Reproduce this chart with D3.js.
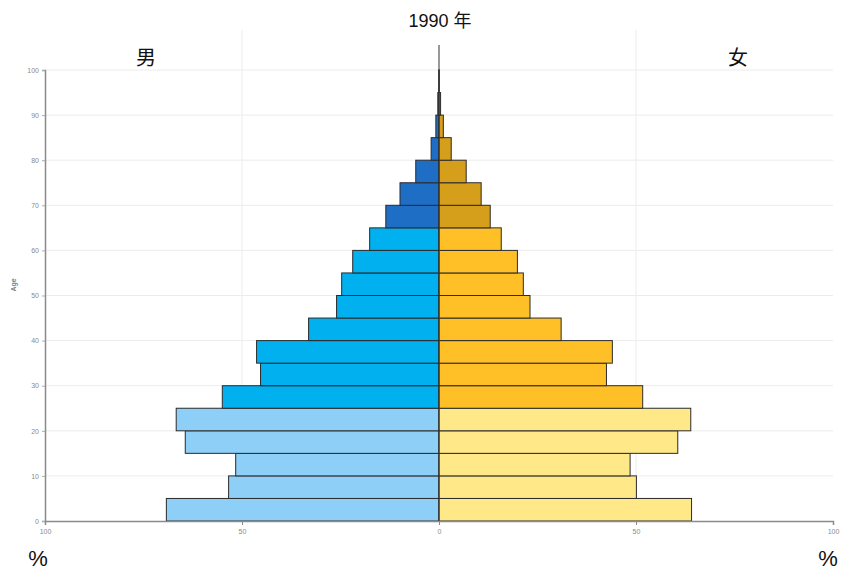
<!DOCTYPE html>
<html>
<head>
<meta charset="utf-8">
<script src="https://cdn.jsdelivr.net/npm/d3@7"></script>
<style>
  body { margin: 0; background: #fff; }
  svg { display: block; }
</style>
</head>
<body>
<svg id="chart" width="844" height="574"></svg>
<script>
// 5-year age groups, 0-4 up to 95-99
var ageStarts = [0, 5, 10, 15, 20, 25, 30, 35, 40, 45, 50, 55, 60, 65, 70, 75, 80, 85, 90, 95];
var male   = [69.2, 53.4, 51.6, 64.4, 66.7, 55.0, 45.3, 46.3, 33.1, 26.0, 24.7, 21.9, 17.6, 13.5, 9.9, 5.9, 2.0, 0.8, 0.3, 0.05];
var female = [64.1, 50.1, 48.5, 60.6, 63.9, 51.7, 42.5, 44.0, 31.0, 23.1, 21.4, 19.9, 15.8, 13.0, 10.7, 6.9, 3.1, 1.1, 0.4, 0.05];
var xTicks = [-100, -50, 0, 50, 100];
var yTicks = [0, 10, 20, 30, 40, 50, 60, 70, 80, 90, 100];

var title = "1990 年";
var maleLabel = "男";
var femaleLabel = "女";

var svg = d3.select("#chart");

var x = d3.scaleLinear().domain([-100, 100]).range([45, 833]);
var y = d3.scaleLinear().domain([0, 100]).range([521, 70]);

function maleColor(a) {
  if (a < 25) return "#8ecff7";
  if (a < 65) return "#00b0ef";
  return "#1f6ec6";
}
function femaleColor(a) {
  if (a < 25) return "#ffe888";
  if (a < 65) return "#ffc027";
  return "#d59f1c";
}

// grid
svg.append("g").selectAll("line")
  .data(yTicks.slice(1))
  .enter().append("line")
  .attr("x1", x(-100)).attr("x2", x(100))
  .attr("y1", function (d) { return y(d); })
  .attr("y2", function (d) { return y(d); })
  .attr("stroke", "#ececec")
  .attr("stroke-width", 1);

svg.append("g").selectAll("line")
  .data([-50, 50])
  .enter().append("line")
  .attr("x1", function (d) { return x(d); })
  .attr("x2", function (d) { return x(d); })
  .attr("y1", 30).attr("y2", y(0))
  .attr("stroke", "#ececec")
  .attr("stroke-width", 1);

// bars
var data = ageStarts.map(function (a, i) {
  return { age: a, m: male[i], f: female[i] };
});

svg.append("g").selectAll("rect")
  .data(data)
  .enter().append("rect")
  .attr("x", function (d) { return x(-d.m); })
  .attr("width", function (d) { return x(0) - x(-d.m); })
  .attr("y", function (d) { return y(d.age + 5); })
  .attr("height", function (d) { return y(d.age) - y(d.age + 5); })
  .attr("fill", function (d) { return maleColor(d.age); })
  .attr("stroke", "#2b2b2b")
  .attr("stroke-width", 1);

svg.append("g").selectAll("rect")
  .data(data)
  .enter().append("rect")
  .attr("x", x(0))
  .attr("width", function (d) { return x(d.f) - x(0); })
  .attr("y", function (d) { return y(d.age + 5); })
  .attr("height", function (d) { return y(d.age) - y(d.age + 5); })
  .attr("fill", function (d) { return femaleColor(d.age); })
  .attr("stroke", "#2b2b2b")
  .attr("stroke-width", 1);

// centre line
svg.append("line")
  .attr("x1", x(0)).attr("x2", x(0))
  .attr("y1", 45).attr("y2", y(0))
  .attr("stroke", "#333")
  .attr("stroke-width", 1);

// axes
var xAxis = d3.axisBottom(x)
  .tickValues(xTicks)
  .tickSize(4)
  .tickFormat(function (d) { return Math.abs(d); });
var gx = svg.append("g")
  .attr("transform", "translate(0," + y(0) + ")")
  .call(xAxis);
gx.select(".domain").attr("stroke", "#8a8a8a").attr("stroke-width", 1.5);
gx.selectAll(".tick line").attr("stroke", "#8a8a8a");
gx.selectAll(".tick text")
  .attr("fill", "#8a8a8a")
  .attr("font-size", "7px")
  .attr("font-family", "Liberation Sans, Arial, sans-serif")
  .attr("dy", "0.9em");

var yAxis = d3.axisLeft(y)
  .tickValues(yTicks)
  .tickSize(3)
  .tickFormat(d3.format("d"));
var gy = svg.append("g")
  .attr("transform", "translate(" + x(-100) + ",0)")
  .call(yAxis);
gy.select(".domain").attr("stroke", "#8a8a8a").attr("stroke-width", 1.5);
gy.selectAll(".tick line").attr("stroke", "#aaa");
gy.selectAll(".tick text")
  .attr("fill", "#8a8a8a")
  .attr("font-size", "7px")
  .attr("font-family", "Liberation Sans, Arial, sans-serif");

svg.append("text")
  .attr("transform", "translate(16,285) rotate(-90)")
  .attr("text-anchor", "middle")
  .attr("font-size", "7px")
  .attr("font-weight", "bold")
  .attr("fill", "#777")
  .attr("font-family", "Liberation Sans, Arial, sans-serif")
  .text("Age");

// labels
var cjk = "'Liberation Sans', 'Noto Sans CJK SC', sans-serif";
svg.append("text")
  .attr("x", 440).attr("y", 27)
  .attr("text-anchor", "middle")
  .attr("font-size", "18px")
  .attr("font-family", cjk)
  .attr("fill", "#111")
  .text(title);

svg.append("text")
  .attr("x", 146).attr("y", 65)
  .attr("text-anchor", "middle")
  .attr("font-size", "20px")
  .attr("font-family", cjk)
  .attr("fill", "#111")
  .text(maleLabel);

svg.append("text")
  .attr("x", 738).attr("y", 65)
  .attr("text-anchor", "middle")
  .attr("font-size", "20px")
  .attr("font-family", cjk)
  .attr("fill", "#111")
  .text(femaleLabel);

svg.append("text")
  .attr("x", 38).attr("y", 566)
  .attr("text-anchor", "middle")
  .attr("font-size", "22px")
  .attr("font-family", "Liberation Sans, Arial, sans-serif")
  .attr("fill", "#111")
  .text("%");

svg.append("text")
  .attr("x", 828).attr("y", 566)
  .attr("text-anchor", "middle")
  .attr("font-size", "22px")
  .attr("font-family", "Liberation Sans, Arial, sans-serif")
  .attr("fill", "#111")
  .text("%");
</script>
</body>
</html>
